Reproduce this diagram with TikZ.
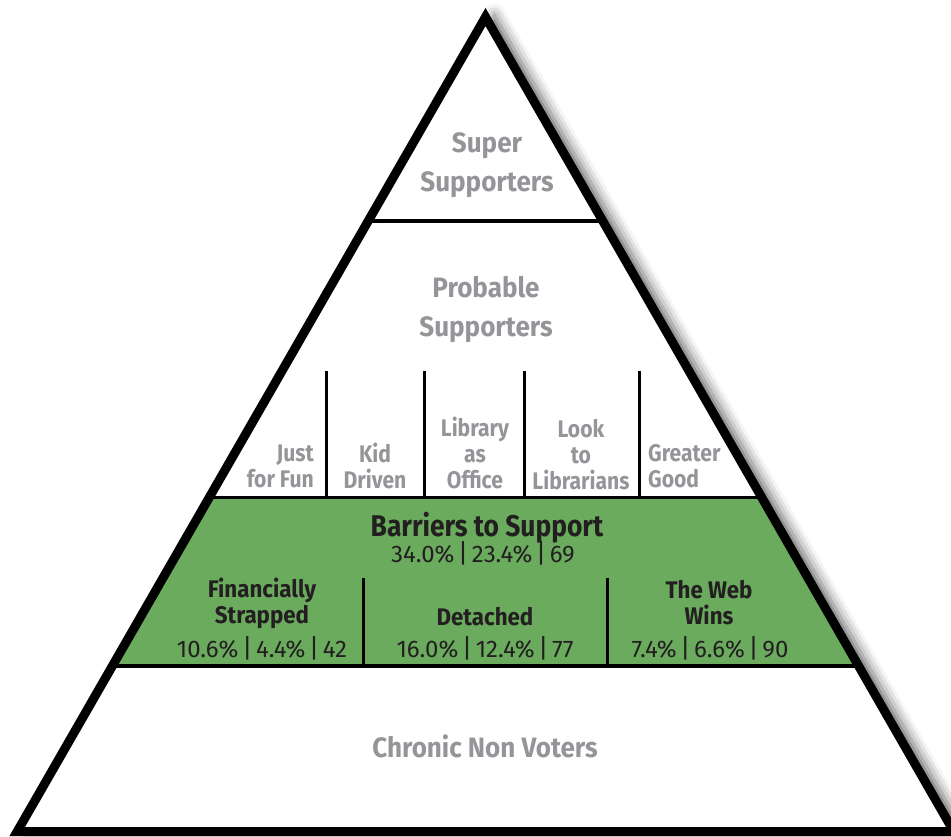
\documentclass[tikz,border=0pt]{standalone}
\usepackage{fontspec}
\setmainfont{Fira Sans}[FakeStretch=0.93]
\newfontfamily\condfont{Fira Sans}[FakeStretch=0.88]
\newfontfamily\numfont{Fira Sans}
\usetikzlibrary{calc,shadows.blur}
\definecolor{pgreen}{HTML}{6AAB5E}
\definecolor{ptext}{HTML}{939598}
\definecolor{pdark}{HTML}{231F20}
\tikzset{
  outline/.style={draw=black, line width=9pt, line join=miter},
  divider/.style={draw=black, line width=3.5pt},
  vdivider/.style={draw=black, line width=3pt},
  lbl/.style={text=ptext, font=\bfseries\fontsize{28}{39}\selectfont, align=center, inner sep=0pt},
  sublbl/.style={text=ptext, font=\condfont\bfseries\fontsize{24}{26}\selectfont, inner sep=0pt},
  dklbl/.style={text=pdark, font=\bfseries\fontsize{24}{26}\selectfont, align=center, inner sep=0pt},
  biglbl/.style={text=pdark, font=\condfont\bfseries\fontsize{30}{34}\selectfont, inner sep=0pt},
  numlbl/.style={text=pdark, font=\numfont\fontsize{24}{26}\selectfont, inner sep=0pt},
}
\newcommand{\sep}{\hspace{3.5pt}{\fontsize{26}{26}\selectfont|}\hspace{3.5pt}}
\begin{document}
\begin{tikzpicture}[x=1pt,y=-1pt]
\useasboundingbox (0,0) rectangle (951,836);
\clip (0,0) rectangle (951,836);
% triangle corners (line centres)
\coordinate (A) at (485.5,17);
\coordinate (BL) at (17.2,831.5);
\coordinate (BR) at (953.8,831.5);
% divider end points on the sides
\coordinate (L1) at ($(A)!0.2505!(BL)$);
\coordinate (R1) at ($(A)!0.2505!(BR)$);
\coordinate (L2) at ($(A)!0.5900!(BL)$);
\coordinate (R2) at ($(A)!0.5900!(BR)$);
\coordinate (L3) at ($(A)!0.7968!(BL)$);
\coordinate (R3) at ($(A)!0.7968!(BR)$);
% white body with shadow
\fill[white, blur shadow={shadow xshift=9pt, shadow yshift=2pt, shadow blur radius=11pt, shadow opacity=60}]
  (A) -- (BR) -- (BL) -- cycle;
% green band
\fill[pgreen] (L2) -- (R2) -- (R3) -- (L3) -- cycle;
% horizontal dividers
\draw[divider] (L1) -- (R1);
\draw[divider] (L2) -- (R2);
\draw[divider] (L3) -- (R3);
% vertical dividers (upper band)
\coordinate (v1t) at (326,371); \coordinate (v1b) at (326,497.5);
\coordinate (v2t) at (424,371); \coordinate (v2b) at (424,497.5);
\coordinate (v3t) at (524,371); \coordinate (v3b) at (524,497.5);
\coordinate (v4t) at (639,371); \coordinate (v4b) at (639,497.5);
\draw[vdivider] (v1t) -- (v1b);
\draw[vdivider] (v2t) -- (v2b);
\draw[vdivider] (v3t) -- (v3b);
\draw[vdivider] (v4t) -- (v4b);
% vertical dividers (green band)
\coordinate (g1t) at (363.5,578); \coordinate (g1b) at (363.5,666);
\coordinate (g2t) at (607,578); \coordinate (g2b) at (607,666);
\draw[vdivider] (g1t) -- (g1b);
\draw[vdivider] (g2t) -- (g2b);
% outline
\draw[outline] (A) -- (BR) -- (BL) -- cycle;
% labels
\node[lbl] (super) at (487,165) {Super\\Supporters};
\node[lbl] (probable) at (486,309) {Probable\\Supporters};
\node[sublbl, align=right, anchor=east] (fun) at (314,466) {Just\\for Fun};
\node[sublbl, align=center] (kid) at (375,466) {Kid\\Driven};
\node[sublbl, align=center] (office) at (475,453) {Library\\as\\Office};
\node[sublbl, align=center] (look) at (581,455) {Look\\to\\Librarians};
\node[sublbl, align=left, anchor=west] (good) at (648,466) {Greater\\Good};
\node[biglbl] (barriers) at (487,528) {Barriers to Support};
\node[numlbl] (barnum) at (483,553) {34.0\%\sep 23.4\%\sep 69};
\node[dklbl] (fin) at (262,603) {Financially\\Strapped};
\node[numlbl] (finnum) at (262,648) {10.6\%\sep 4.4\%\sep 42};
\node[dklbl] (det) at (485,617) {Detached};
\node[numlbl] (detnum) at (485,648) {16.0\%\sep 12.4\%\sep 77};
\node[dklbl] (web) at (709,603) {The Web\\Wins};
\node[numlbl] (webnum) at (710,648) {7.4\%\sep 6.6\%\sep 90};
\node[lbl] (chronic) at (485,746) {Chronic Non Voters};
\end{tikzpicture}
\end{document}
